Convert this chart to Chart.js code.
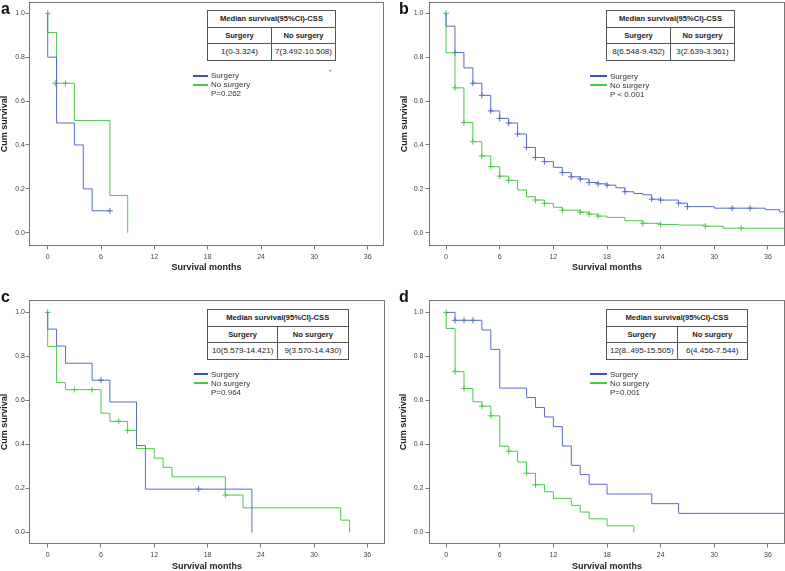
<!DOCTYPE html>
<html>
<head>
<meta charset="utf-8">
<script src="https://cdn.jsdelivr.net/npm/chart.js@4.4.1/dist/chart.umd.min.js"></script>
<style>
  body { margin: 0; background: #fff; font-family: "Liberation Sans", Arial, sans-serif; }
  #wrap { position: relative; width: 785px; height: 571px; overflow: hidden; background: #fff; }
  canvas { position: absolute; }
  .letter { position: absolute; font-size: 16px; line-height: 16px; font-weight: bold; color: #111; }
  .ci { position: absolute; border-collapse: collapse; table-layout: fixed; color: #222; background: #fff; }
  .ci td { border: 1px solid #555; text-align: center; padding: 0; height: 15.5px; white-space: nowrap; font-size: 8px; }
  .ci tr.head td { font-weight: bold; font-size: 7.6px; }
  .sw { position: absolute; height: 2px; }
  .lg { position: absolute; font-size: 8px; line-height: 9px; color: #333; white-space: nowrap; }
</style>
</head>
<body>
<div id="wrap">
  <canvas id="chartA" width="390" height="285" style="left:0;top:0"></canvas>
  <canvas id="chartB" width="395" height="285" style="left:390px;top:0"></canvas>
  <canvas id="chartC" width="390" height="286" style="left:0;top:285px"></canvas>
  <canvas id="chartD" width="395" height="286" style="left:390px;top:285px"></canvas>
</div>
<script>
// shared axis ticks
const monthTicks = [0, 6, 12, 18, 24, 30, 36];
const survTicks = [0, 0.2, 0.4, 0.6, 0.8, 1.0];
const groupNames = ["Surgery", "No surgery"];
const tableTitle = "Median survival(95%CI)-CSS";

// panel a
const aSurgMonths = [0, 0, 1, 3, 4, 5, 7];
const aSurgSurv = [1.0, 0.8, 0.5, 0.4, 0.2, 0.1, 0.1];
const aSurgCensMonths = [7];
const aSurgCensSurv = [0.1];
const aNoSurgMonths = [0, 0, 1, 3, 7, 9];
const aNoSurgSurv = [1.0, 0.912, 0.681, 0.511, 0.17, 0];
const aNoSurgCensMonths = [0, 0.85, 2];
const aNoSurgCensSurv = [1.0, 0.681, 0.681];
const aStrayMonths = [31.8];
const aStraySurv = [0.738];
const aMedian = ["1(0-3.324)", "7(3.492-10.508)"];
const aP = "P=0.262";

// panel b
const bSurgMonths = [0, 0, 1, 2, 3, 4, 5, 6, 7, 8, 9, 10, 11, 12, 13, 14, 15, 16, 17, 18, 19, 20, 21, 22, 23, 24, 26, 27, 30, 35.7, 37.3, 37.9];
const bSurgSurv = [1.0, 0.941, 0.821, 0.751, 0.681, 0.626, 0.555, 0.521, 0.5, 0.45, 0.389, 0.343, 0.324, 0.298, 0.274, 0.255, 0.245, 0.229, 0.223, 0.217, 0.205, 0.187, 0.179, 0.173, 0.153, 0.149, 0.135, 0.119, 0.112, 0.105, 0.095, 0.095];
const bSurgCensMonths = [1, 3, 4, 5, 6, 7, 8, 9, 10, 11, 13, 14, 15, 16, 17, 18, 20, 23, 24, 26, 27, 32, 34];
const bSurgCensSurv = [0.821, 0.681, 0.626, 0.555, 0.521, 0.5, 0.45, 0.389, 0.343, 0.324, 0.274, 0.255, 0.245, 0.229, 0.223, 0.217, 0.187, 0.153, 0.149, 0.135, 0.119, 0.112, 0.112];
const bNoSurgMonths = [0, 0, 1, 2, 3, 4, 5, 6, 7, 8, 9, 10, 11, 12, 13, 15, 16, 17, 18, 20, 22, 24, 26, 29, 31, 37.9];
const bNoSurgSurv = [1.0, 0.82, 0.66, 0.502, 0.415, 0.35, 0.301, 0.258, 0.239, 0.195, 0.164, 0.149, 0.134, 0.116, 0.103, 0.094, 0.085, 0.076, 0.07, 0.055, 0.043, 0.038, 0.035, 0.03, 0.021, 0.021];
const bNoSurgCensMonths = [0, 1, 2, 3, 4, 5, 6, 7, 10, 11, 13, 15, 16, 17, 22, 24, 29, 33];
const bNoSurgCensSurv = [1.0, 0.66, 0.502, 0.415, 0.35, 0.301, 0.258, 0.239, 0.149, 0.134, 0.103, 0.094, 0.085, 0.076, 0.043, 0.038, 0.03, 0.021];
const bMedian = ["8(6.548-9.452)", "3(2.639-3.361)"];
const bP = "P < 0.001";

// panel c
const cSurgMonths = [0, 0, 1, 2, 5, 7, 10, 11, 23];
const cSurgSurv = [1.0, 0.924, 0.847, 0.769, 0.692, 0.593, 0.395, 0.197, 0];
const cSurgCensMonths = [6, 17];
const cSurgCensSurv = [0.692, 0.197];
const cNoSurgMonths = [0, 0, 1, 2, 6, 7, 9, 10, 12, 13, 14, 20, 22, 33, 34];
const cNoSurgSurv = [1.0, 0.845, 0.681, 0.649, 0.542, 0.505, 0.464, 0.381, 0.338, 0.296, 0.253, 0.17, 0.112, 0.056, 0];
const cNoSurgCensMonths = [0, 3, 5, 8, 9, 20];
const cNoSurgCensSurv = [1.0, 0.649, 0.649, 0.505, 0.464, 0.17];
const cMedian = ["10(5.579-14.421)", "9(3.570-14.430)"];
const cP = "P=0.964";

// panel d
const dSurgMonths = [0, 1, 4, 5, 6, 9, 10, 11, 12, 13, 14, 15, 16, 18, 23, 26, 37.9];
const dSurgSurv = [1.0, 0.964, 0.92, 0.832, 0.656, 0.613, 0.568, 0.525, 0.481, 0.393, 0.305, 0.263, 0.219, 0.175, 0.131, 0.087, 0.087];
const dSurgCensMonths = [1, 2, 3];
const dSurgCensSurv = [0.964, 0.964, 0.964];
const dNoSurgMonths = [0, 0, 1, 2, 3, 4, 5, 6, 7, 8, 9, 10, 11, 12, 14, 15, 16, 18, 21];
const dNoSurgSurv = [1.0, 0.927, 0.731, 0.654, 0.594, 0.574, 0.53, 0.392, 0.369, 0.32, 0.269, 0.217, 0.185, 0.155, 0.123, 0.093, 0.062, 0.03, 0];
const dNoSurgCensMonths = [0, 1, 2, 4, 5, 7, 9, 10];
const dNoSurgCensSurv = [1.0, 0.731, 0.654, 0.574, 0.53, 0.369, 0.269, 0.217];
const dMedian = ["12(8..495-15.505)", "6(4.456-7.544)"];
const dP = "P=0.001";

const BLUE = "#5a6ad0";
const GREEN = "#4cc84c";
const BLUE_KEY = "#3a4ec6";
const GREEN_KEY = "#48c848";
const FONT = "'Liberation Sans', Arial, sans-serif";

Chart.defaults.font.family = FONT;

function pts(xs, ys) {
  return xs.map((x, i) => ({ x: x, y: ys[i] }));
}

const framePlugin = {
  id: "frame",
  afterDraw(chart) {
    const { ctx, chartArea: a } = chart;
    ctx.save();
    ctx.strokeStyle = "#777";
    ctx.lineWidth = 1;
    ctx.strokeRect(a.left, a.top, a.right - a.left, a.bottom - a.top);
    ctx.restore();
  },
};

function makeChart(id, p) {
  const datasets = [
    { data: pts(p.surgT, p.surgS), borderColor: BLUE, stepped: true },
    { data: pts(p.noT, p.noS), borderColor: GREEN, stepped: true },
    { data: pts(p.surgCT, p.surgCS), borderColor: BLUE, showLine: false, pointStyle: "cross", pointRadius: 3 },
    { data: pts(p.noCT, p.noCS), borderColor: GREEN, showLine: false, pointStyle: "cross", pointRadius: 3 },
  ].map((d) => Object.assign({ borderWidth: 1, pointRadius: 0, fill: false }, d));
  if (p.strayT) {
    datasets.push({ data: pts(p.strayT, p.strayS), showLine: false, pointRadius: 0.8, backgroundColor: BLUE_KEY, borderColor: BLUE_KEY, borderWidth: 0 });
  }

  new Chart(document.getElementById(id), {
    type: "line",
    data: { datasets: datasets },
    options: {
      responsive: false,
      animation: false,
      devicePixelRatio: 1,
      layout: { autoPadding: false, padding: { top: p.padTop, right: p.padRight, left: 0, bottom: 0 } },
      plugins: { legend: { display: false }, tooltip: { enabled: false } },
      scales: {
        x: {
          type: "linear",
          min: p.xMin,
          max: p.xMax,
          afterBuildTicks: (s) => { s.ticks = monthTicks.map((v) => ({ value: v })); },
          afterFit: (s) => {
            s.height = p.xHeight;
            s.paddingLeft = 0;
            s.paddingRight = 0;
          },
          ticks: { callback: (v) => String(v), font: { size: 7 }, color: "#444", padding: 3.5, maxRotation: 0, autoSkip: false },
          grid: { drawOnChartArea: false, drawTicks: true, tickLength: 4, color: "#777" },
          border: { color: "#777" },
          title: {
            display: true,
            text: "Survival months",
            color: "#222",
            font: { size: 9, weight: "bold", lineHeight: 1 },
            padding: { top: 0, bottom: p.xTitlePad },
          },
        },
        y: {
          type: "linear",
          min: p.yMin,
          max: p.yMax,
          afterBuildTicks: (s) => { s.ticks = survTicks.map((v) => ({ value: v })); },
          afterFit: (s) => {
            s.width = p.yWidth;
            s.paddingTop = 0;
            s.paddingBottom = 0;
          },
          ticks: { callback: (v) => v.toFixed(1), font: { size: 7 }, color: "#444", padding: p.yTickPad, autoSkip: false },
          grid: { drawOnChartArea: false, drawTicks: true, tickLength: 4, color: "#777" },
          border: { color: "#777" },
          title: {
            display: true,
            text: "Cum survival",
            color: "#222",
            font: { size: 9, weight: "bold", lineHeight: 1 },
            padding: { top: p.yTitlePad, bottom: 0 },
          },
        },
      },
    },
    plugins: [framePlugin],
  });
}

function addOverlay(p) {
  const wrap = document.getElementById("wrap");

  const letter = document.createElement("div");
  letter.className = "letter";
  letter.textContent = p.letter;
  letter.style.left = p.letterX + "px";
  letter.style.top = p.letterY + "px";
  wrap.appendChild(letter);

  const t = document.createElement("table");
  t.className = "ci";
  t.style.left = p.tbl[0] + "px";
  t.style.top = p.tbl[1] + "px";
  t.style.width = p.tbl[2] + "px";
  t.innerHTML =
    '<tr class="head"><td colspan="2">' + tableTitle + "</td></tr>" +
    '<tr class="head"><td>' + groupNames[0] + "</td><td>" + groupNames[1] + "</td></tr>" +
    "<tr><td>" + p.median[0] + "</td><td>" + p.median[1] + "</td></tr>";
  wrap.appendChild(t);

  const [lx, ly] = p.legend;
  [[BLUE_KEY, 0], [GREEN_KEY, 9]].forEach(([c, dy]) => {
    const s = document.createElement("div");
    s.className = "sw";
    s.style.background = c;
    s.style.left = lx + "px";
    s.style.width = p.swW + "px";
    s.style.top = ly + dy - 1 + "px";
    wrap.appendChild(s);
  });
  [groupNames[0], groupNames[1], p.pText].forEach((txt, i) => {
    const d = document.createElement("div");
    d.className = "lg";
    d.textContent = txt;
    d.style.left = lx + p.swW + 3 + "px";
    d.style.top = ly - 4.5 + i * 9.2 + "px";
    wrap.appendChild(d);
  });
}

const panels = [
  { id: "chartA", letter: "a", letterX: 1, letterY: 0.5,
    surgT: aSurgMonths, surgS: aSurgSurv, noT: aNoSurgMonths, noS: aNoSurgSurv,
    surgCT: aSurgCensMonths, surgCS: aSurgCensSurv, noCT: aNoSurgCensMonths, noCS: aNoSurgCensSurv,
    strayT: aStrayMonths, strayS: aStraySurv,
    xMin: -2.05, xMax: 37.78, yMin: -0.058, yMax: 1.049,
    padTop: 2.5, padRight: 6.5, yWidth: 29.5, xHeight: 39.5, xTitlePad: 12.8, yTitlePad: 0.5, yTickPad: 0.5,
    median: aMedian, pText: aP, tbl: [207, 10, 129], legend: [193, 75.5], swW: 15 },
  { id: "chartB", letter: "b", letterX: 399, letterY: 0.5,
    surgT: bSurgMonths, surgS: bSurgSurv, noT: bNoSurgMonths, noS: bNoSurgSurv,
    surgCT: bSurgCensMonths, surgCS: bSurgCensSurv, noCT: bNoSurgCensMonths, noCS: bNoSurgCensSurv,
    xMin: -1.85, xMax: 37.85, yMin: -0.058, yMax: 1.049,
    padTop: 2.5, padRight: 0.5, yWidth: 39.5, xHeight: 39.5, xTitlePad: 12.8, yTitlePad: 10, yTickPad: 2,
    median: bMedian, pText: bP, tbl: [606, 10, 129], legend: [590, 76], swW: 17 },
  { id: "chartC", letter: "c", letterX: 1, letterY: 289,
    surgT: cSurgMonths, surgS: cSurgSurv, noT: cNoSurgMonths, noS: cNoSurgSurv,
    surgCT: cSurgCensMonths, surgCS: cSurgCensSurv, noCT: cNoSurgCensMonths, noCS: cNoSurgCensSurv,
    xMin: -2.05, xMax: 37.93, yMin: -0.05, yMax: 1.054,
    padTop: 15.5, padRight: 5.5, yWidth: 29.5, xHeight: 27.5, xTitlePad: 0, yTitlePad: 0.5, yTickPad: 0.5,
    median: cMedian, pText: cP, tbl: [207, 309, 141.5], legend: [194, 374.3], swW: 14 },
  { id: "chartD", letter: "d", letterX: 399, letterY: 289,
    surgT: dSurgMonths, surgS: dSurgSurv, noT: dNoSurgMonths, noS: dNoSurgSurv,
    surgCT: dSurgCensMonths, surgCS: dSurgCensSurv, noCT: dNoSurgCensMonths, noCS: dNoSurgCensSurv,
    xMin: -1.86, xMax: 37.85, yMin: -0.05, yMax: 1.054,
    padTop: 15.5, padRight: 0.5, yWidth: 39.5, xHeight: 27.5, xTitlePad: 0, yTitlePad: 9.5, yTickPad: 2,
    median: dMedian, pText: dP, tbl: [606, 309, 142], legend: [590, 374.3], swW: 17 },
];

panels.forEach((p) => {
  makeChart(p.id, p);
  addOverlay(p);
});
</script>
</body>
</html>
